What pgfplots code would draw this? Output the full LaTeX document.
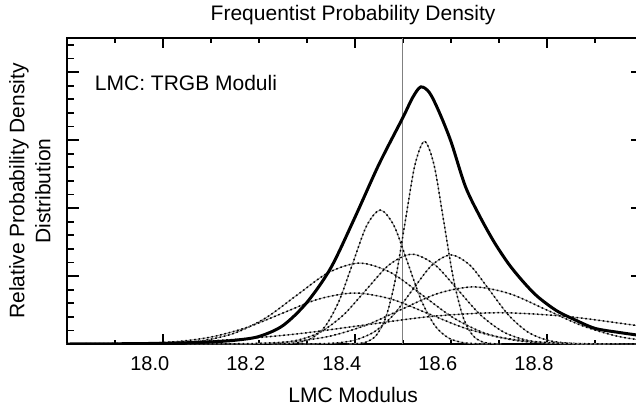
\documentclass[border=0pt]{standalone}
\usepackage{fontspec}
\setmainfont{Liberation Sans}
\usepackage{pgfplots}
\pgfplotsset{compat=1.18}
\begin{document}
\begin{tikzpicture}
\pgfplotsset{
  comp/.style={smooth, line width=0.45pt, black!45,
    postaction={draw, black, line width=0.75pt, dash pattern=on 0.8pt off 1.4pt}},
  every axis title/.style={at={(axis description cs:0.497,1)}, anchor=center, yshift=11.5pt, font=\fontsize{10.5}{13}\selectfont},
}
\begin{axis}[
  at={(0,0)}, anchor=south west, scale only axis,
  width=288.15pt, height=153pt,
  xmin=17.8, xmax=19.0, ymin=0, ymax=4.5,
  axis line style={line width=1pt},
  tick style={line width=0.9pt, black},
  tick align=inside,
  major tick length=2.25pt, minor tick length=2.25pt,
  xtick={18.0,18.2,18.4,18.6,18.8},
  xticklabels={18.0,18.2,18.4,18.6,18.8},
  minor xtick={17.9,18.1,18.3,18.5,18.7,18.9},
  extra x ticks={18.0,18.4,18.8},
  extra x tick labels={},
  extra x tick style={major tick length=5pt},
  ytick={0,1,2,3,4}, yticklabels={},
  minor ytick={0.2,0.4,0.6,0.8,1.2,1.4,1.6,1.8,2.2,2.4,2.6,2.8,3.2,3.4,3.6,3.8,4.2,4.4},
  ytick style={/pgfplots/major tick length=6pt, /pgfplots/minor tick length=3.5pt},
  xticklabel style={font=\fontsize{10}{12}\selectfont, xshift=-6.5pt, yshift=-2.5pt},
  title={Frequentist Probability Density},
  xlabel={LMC Modulus},
  xlabel style={font=\fontsize{10.5}{13}\selectfont, at={(axis description cs:0.497,0)}, anchor=center, yshift=-25.5pt},
  ylabel={Relative Probability Density\\Distribution},
  ylabel style={font=\fontsize{10.5}{13}\selectfont, align=center, at={(axis description cs:-0.0637,0.5)}, anchor=center},
]
\addplot[gray, line width=0.6pt] coordinates {(18.5,0) (18.5,4.5)};

% component curves
\addplot[comp] coordinates {(18.385,0.0009) (18.405,0.0066) (18.425,0.033) (18.445,0.131) (18.465,0.403) (18.485,0.968) (18.505,1.807) (18.525,2.630) (18.545,2.98) (18.565,2.630) (18.585,1.807) (18.605,0.968) (18.625,0.403) (18.645,0.131) (18.665,0.033) (18.685,0.0066) (18.705,0.0009)};
\addplot[comp] coordinates {(18.225,0.0006) (18.2535,0.0043) (18.282,0.0219) (18.3105,0.0865) (18.339,0.267) (18.3675,0.640) (18.396,1.195) (18.4245,1.739) (18.453,1.97) (18.4815,1.739) (18.51,1.195) (18.5385,0.640) (18.567,0.267) (18.5955,0.0865) (18.624,0.0219) (18.6525,0.0043) (18.681,0.0006)};
\addplot[comp] coordinates {(18.139,0.0004) (18.1865,0.0029) (18.234,0.0147) (18.2815,0.058) (18.329,0.179) (18.3765,0.429) (18.424,0.801) (18.4715,1.165) (18.519,1.32) (18.5665,1.165) (18.614,0.801) (18.6615,0.429) (18.709,0.179) (18.7565,0.058) (18.804,0.0147) (18.8515,0.0029) (18.899,0.0004)};
\addplot[comp] coordinates {(18.28,0.0004) (18.32,0.0029) (18.36,0.0145) (18.40,0.0575) (18.44,0.177) (18.48,0.425) (18.52,0.795) (18.56,1.156) (18.60,1.31) (18.64,1.156) (18.68,0.795) (18.72,0.425) (18.76,0.177) (18.80,0.0575) (18.84,0.0145) (18.88,0.0029) (18.92,0.0004)};
\addplot[comp] coordinates {(17.89,0.0004) (17.955,0.0026) (18.02,0.0132) (18.085,0.0522) (18.15,0.161) (18.215,0.386) (18.28,0.722) (18.345,1.050) (18.41,1.19) (18.475,1.050) (18.54,0.722) (18.605,0.386) (18.67,0.161) (18.735,0.0522) (18.80,0.0132) (18.865,0.0026) (18.93,0.0004)};
\addplot[comp] coordinates {(18.047,0.0003) (18.122,0.0018) (18.197,0.0093) (18.272,0.0369) (18.347,0.114) (18.422,0.273) (18.497,0.509) (18.572,0.741) (18.647,0.84) (18.722,0.741) (18.797,0.509) (18.872,0.273) (18.947,0.114) (19.022,0.0369) (19.097,0.0093)};
\addplot[comp] coordinates {(17.80,0.0003) (17.875,0.0017) (17.95,0.0083) (18.025,0.0329) (18.10,0.1015) (18.175,0.2435) (18.25,0.455) (18.325,0.662) (18.40,0.75) (18.475,0.662) (18.55,0.455) (18.625,0.2435) (18.70,0.1015) (18.775,0.0329) (18.85,0.0083) (18.925,0.0017) (19.00,0.0003)};
\addplot[comp] coordinates {(17.72,0.0010) (17.86,0.0051) (18.00,0.0202) (18.14,0.0622) (18.28,0.149) (18.42,0.279) (18.56,0.406) (18.70,0.46) (18.84,0.406) (18.98,0.279) (19.12,0.149)};

% combined density
\addplot[smooth, black, line width=1.5pt] coordinates {(17.80,0.0) (17.90,0.003) (18.00,0.01) (18.05,0.018) (18.10,0.03) (18.15,0.055) (18.20,0.11) (18.25,0.27) (18.30,0.61) (18.35,1.12) (18.40,1.86) (18.45,2.64) (18.50,3.33) (18.52,3.62) (18.537,3.78) (18.555,3.70) (18.575,3.42) (18.60,2.98) (18.63,2.32) (18.66,1.88) (18.69,1.50) (18.72,1.18) (18.75,0.92) (18.78,0.70) (18.82,0.49) (18.86,0.35) (18.90,0.23) (18.95,0.17) (19.00,0.12)};

\node[font=\fontsize{10.5}{13}\selectfont] at (axis description cs:0.207,0.852) {LMC: TRGB Moduli};
\end{axis}
\pgfresetboundingbox
\path[use as bounding box] (-33.35pt,-32.5pt) rectangle (284.65pt,172pt);
\end{tikzpicture}
\end{document}
